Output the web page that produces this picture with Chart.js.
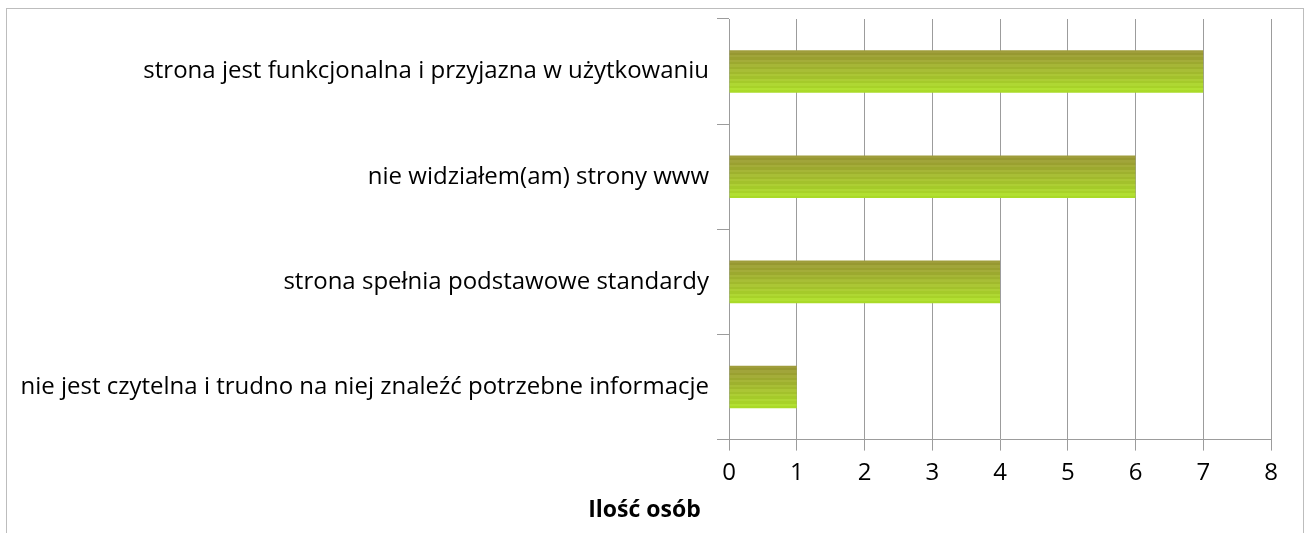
<!DOCTYPE html>
<html>
<head>
<meta charset="utf-8">
<script src="https://cdn.jsdelivr.net/npm/chart.js@4"></script>
<style>
  html, body { margin: 0; padding: 0; background: #fff; overflow: hidden; }
  #wrap { position: absolute; left: 0; top: 0; width: 1305px; height: 533px; }
  #frame { position: absolute; left: 6px; top: 8px; width: 1296px; height: 600px; border: 1px solid #bdbdbd; }
</style>
</head>
<body>
<div id="frame"></div>
<div id="wrap"><canvas id="myChart"></canvas></div>
<script>
    "use strict";

    // answers, top to bottom
    var categories = [
        'strona jest funkcjonalna i przyjazna w użytkowaniu',
        'nie widziałem(am) strony www',
        'strona spełnia podstawowe standardy',
        'nie jest czytelna i trudno na niej znaleźć potrzebne informacje'
    ];
    var counts = [7, 6, 4, 1];
    var axisTitle = 'Ilość osób';

    var BAR_FRACTION = 0.405;
    var gridColor = '#9c9c9c';
    var labelFont = { family: 'Open Sans', size: 24 };

    // olive on top to lime at the bottom, with thin horizontal stripes
    function barFill(context) {
        var chart = context.chart;
        if (!chart.chartArea) return '#a6c83a';
        var yScale = chart.scales.y;
        var center = yScale.getPixelForValue(context.dataIndex);
        var half = (yScale.height / categories.length) * BAR_FRACTION / 2;
        var g = chart.ctx.createLinearGradient(0, center - half, 0, center + half);
        var top = [154, 152, 54], bottom = [174, 222, 44];
        var n = 18;
        for (var i = 0; i < n; i++) {
            var t = i / (n - 1);
            var d = (i % 2 === 0) ? 5 : -4;
            var c = top.map(function (v, k) {
                return Math.max(0, Math.min(255, Math.round(v + (bottom[k] - v) * t + d)));
            });
            var col = 'rgb(' + c.join(',') + ')';
            g.addColorStop(i / n, col);
            g.addColorStop(Math.min(1, (i + 1) / n - 0.001), col);
        }
        return g;
    }

    var ctx = document.getElementById('myChart').getContext('2d');
    var chart = new Chart(ctx, {
        type: 'bar',
        data: {
            labels: categories,
            datasets: [{
                data: counts,
                backgroundColor: barFill,
                borderWidth: 0,
                barPercentage: BAR_FRACTION,
                categoryPercentage: 1
            }]
        },
        options: {
            indexAxis: 'y',
            responsive: true,
            maintainAspectRatio: false,
            animation: false,
            layout: { padding: { left: 18, top: 19, right: 34, bottom: 6 } },
            scales: {
                x: {
                    min: 0,
                    max: 8,
                    ticks: { stepSize: 1, color: '#000', padding: 8, font: labelFont },
                    grid: { color: gridColor, tickLength: 11, tickColor: gridColor },
                    border: { color: gridColor }
                },
                y: {
                    // long answers need a wider label column than the default limit,
                    // and labels sit mid-band so no extra top/bottom room is needed
                    afterFit: function (scale) {
                        scale.width = 711;
                        scale.paddingTop = 0;
                        scale.paddingBottom = 0;
                    },
                    ticks: { color: '#000', padding: 8, font: labelFont },
                    grid: { drawOnChartArea: false, offset: true, tickLength: 12, tickColor: gridColor },
                    border: { color: gridColor }
                }
            },
            plugins: {
                legend: { display: false },
                tooltip: { enabled: false },
                title: {
                    display: true,
                    position: 'bottom',
                    text: axisTitle,
                    color: '#000',
                    padding: { top: 1, bottom: 3 },
                    font: { family: 'Open Sans', size: 23, weight: 'bold' }
                }
            }
        }
    });
</script>
</body>
</html>
